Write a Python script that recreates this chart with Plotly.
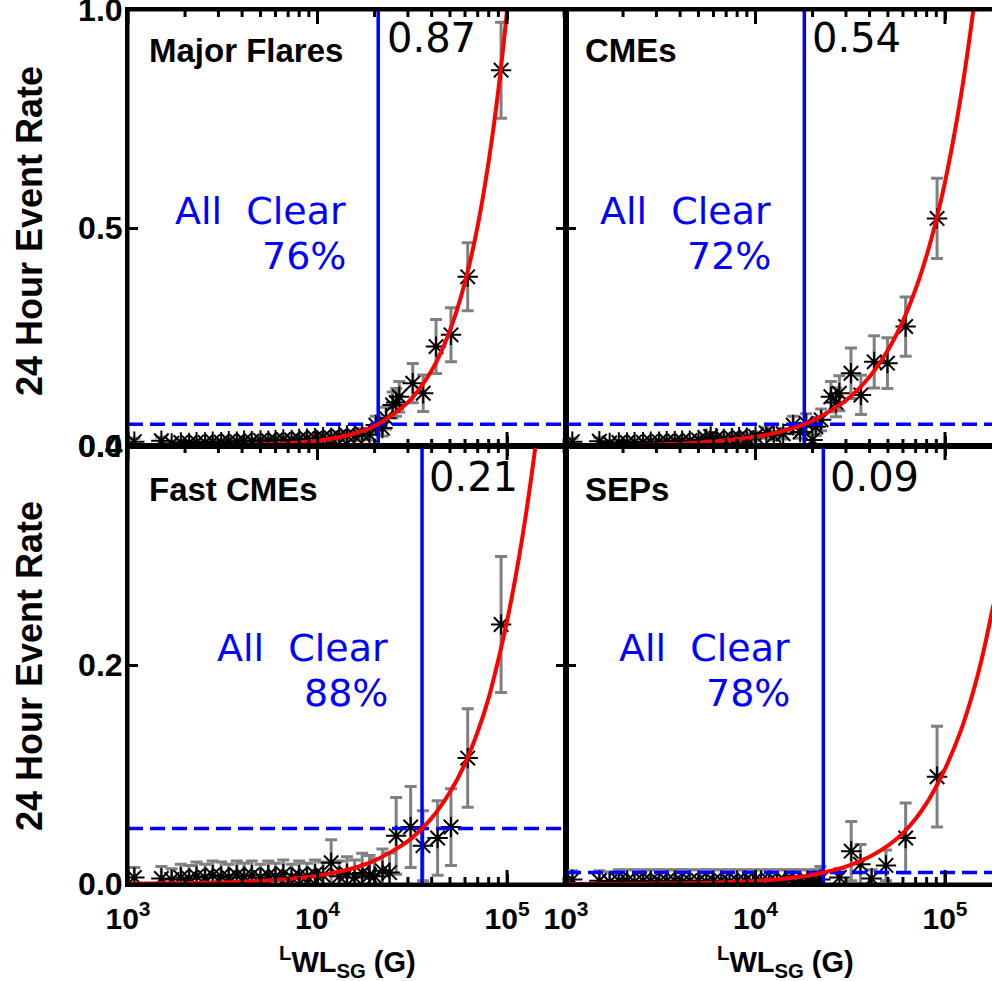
import plotly.graph_objects as go

W, H = 992, 981

# ---------------- data ----------------
PANEL_NAMES = ["Major Flares", "CMEs", "Fast CMEs", "SEPs"]
PROB_LABELS = ["0.87", "0.54", "0.21", "0.09"]
ALL_CLEAR_PCT = ["76%", "72%", "88%", "78%"]
THRESHOLDS = [2.09e4, 1.81e4, 3.56e4, 2.28e4]      # vertical blue lines (G)
THRESH_RATES = [0.050, 0.050, 0.0506, 0.0104]      # dashed blue lines

X_TICKS = [1e3, 1e4, 1e5]
X_TICK_TEXT = ["10<sup>3</sup>", "10<sup>4</sup>", "10<sup>5</sup>"]
X_MINOR = [2e3, 3e3, 4e3, 5e3, 6e3, 7e3, 8e3, 9e3,
           2e4, 3e4, 4e4, 5e4, 6e4, 7e4, 8e4, 9e4, 2e5]
Y_TICKS_TOP = [0.0, 0.5, 1.0]
Y_TICKS_BOT = [0.0, 0.2, 0.4]
Y_TICK_TEXT_TOP = ["0.0", "0.5", "1.0"]
Y_TICK_TEXT_BOT = ["0.0", "0.2", "0.4"]
Y_RANGE_TOP = [0.0, 1.0]
Y_RANGE_BOT = [0.0, 0.4]
X_RANGE_LEFT = [3.0, 5.311]    # log10
X_RANGE_RIGHT = [3.0, 5.248]   # log10 (panel cut at the image edge)

# Major flares
FL_X = [1.08e3, 1.5e3, 1.7e3, 1.9e3, 2.1e3, 2.3e3, 2.55e3, 2.8e3, 3.1e3, 3.4e3,
        3.75e3, 4.1e3, 4.5e3, 5.0e3, 5.5e3, 6.0e3, 6.6e3, 7.3e3, 8.0e3, 8.8e3,
        9.7e3, 1.07e4, 1.18e4, 1.3e4, 1.43e4, 1.57e4, 1.72e4, 1.88e4, 2.03e4, 2.2e4,
        2.3e4, 2.49e4, 2.6e4, 2.7e4, 3.18e4, 3.61e4, 4.22e4, 5.06e4, 6.2e4, 9.3e4]
FL_Y = [0.010, 0.012, 0.006, 0.008, 0.007, 0.009, 0.008, 0.010, 0.009, 0.011,
        0.010, 0.012, 0.011, 0.013, 0.012, 0.014, 0.015, 0.014, 0.016, 0.017,
        0.018, 0.020, 0.019, 0.022, 0.024, 0.023, 0.028, 0.026, 0.048, 0.041,
        0.064, 0.094, 0.100, 0.113, 0.144, 0.121, 0.228, 0.255, 0.388, 0.862]
FL_E = [0.008, 0.008, 0.005, 0.005, 0.005, 0.005, 0.005, 0.006, 0.006, 0.006,
        0.006, 0.006, 0.006, 0.007, 0.007, 0.007, 0.007, 0.007, 0.008, 0.008,
        0.008, 0.009, 0.009, 0.010, 0.010, 0.010, 0.012, 0.012, 0.020, 0.018,
        0.025, 0.030, 0.032, 0.035, 0.045, 0.042, 0.062, 0.062, 0.078, 0.110]

# CMEs
CM_X = [1.08e3, 1.5e3, 1.7e3, 1.9e3, 2.1e3, 2.3e3, 2.55e3, 2.8e3, 3.1e3, 3.4e3,
        3.75e3, 4.1e3, 4.5e3, 5.0e3, 5.5e3, 5.8e3, 6.2e3, 6.8e3, 7.5e3, 8.2e3,
        9.0e3, 1.0e4, 1.14e4, 1.25e4, 1.4e4, 1.58e4, 1.72e4, 1.85e4, 2.0e4, 2.08e4,
        2.22e4, 2.5e4, 2.66e4, 2.77e4, 3.19e4, 3.6e4, 4.23e4, 4.97e4, 6.2e4, 9.08e4]
CM_Y = [0.010, 0.011, 0.007, 0.008, 0.008, 0.009, 0.009, 0.010, 0.010, 0.011,
        0.011, 0.012, 0.012, 0.014, 0.016, 0.022, 0.018, 0.016, 0.018, 0.020,
        0.019, 0.022, 0.030, 0.024, 0.028, 0.048, 0.032, 0.052, 0.014, 0.044,
        0.060, 0.113, 0.100, 0.121, 0.167, 0.117, 0.193, 0.190, 0.274, 0.522]
CM_E = [0.008, 0.008, 0.005, 0.005, 0.005, 0.005, 0.005, 0.006, 0.006, 0.006,
        0.006, 0.006, 0.006, 0.007, 0.007, 0.009, 0.008, 0.008, 0.008, 0.009,
        0.009, 0.010, 0.012, 0.010, 0.012, 0.020, 0.014, 0.022, 0.010, 0.020,
        0.025, 0.035, 0.033, 0.040, 0.058, 0.045, 0.060, 0.058, 0.068, 0.092]

# Fast CMEs
FC_X = [1.08e3, 1.5e3, 1.7e3, 1.9e3, 2.1e3, 2.3e3, 2.55e3, 2.8e3, 3.1e3, 3.4e3,
        3.75e3, 4.1e3, 4.5e3, 5.0e3, 5.5e3, 6.0e3, 6.6e3, 7.3e3, 8.0e3, 8.8e3,
        9.7e3, 1.07e4, 1.18e4, 1.3e4, 1.43e4, 1.57e4, 1.72e4, 1.88e4, 2.0e4, 2.2e4,
        2.4e4, 2.6e4, 3.1e4, 3.6e4, 4.3e4, 5.06e4, 6.2e4, 9.3e4]
FC_Y = [0.006, 0.005, 0.004, 0.006, 0.005, 0.007, 0.006, 0.008, 0.007, 0.006,
        0.008, 0.007, 0.008, 0.006, 0.008, 0.007, 0.009, 0.006, 0.008, 0.007,
        0.009, 0.008, 0.0195, 0.007, 0.009, 0.006, 0.010, 0.008, 0.007, 0.012,
        0.0104, 0.044, 0.052, 0.035, 0.042, 0.052, 0.115, 0.237]
FC_E = [0.009, 0.011, 0.010, 0.012, 0.012, 0.013, 0.012, 0.013, 0.013, 0.012,
        0.013, 0.012, 0.013, 0.012, 0.013, 0.012, 0.013, 0.012, 0.013, 0.012,
        0.013, 0.012, 0.021, 0.014, 0.016, 0.016, 0.018, 0.018, 0.016, 0.020,
        0.018, 0.035, 0.037, 0.032, 0.034, 0.035, 0.045, 0.062]

# SEPs
SP_X = [1.08e3, 1.5e3, 1.7e3, 1.9e3, 2.1e3, 2.3e3, 2.55e3, 2.8e3, 3.1e3, 3.4e3,
        3.75e3, 4.1e3, 4.5e3, 5.0e3, 5.5e3, 6.0e3, 6.6e3, 7.3e3, 8.0e3, 8.8e3,
        9.7e3, 1.07e4, 1.18e4, 1.3e4, 1.43e4, 1.57e4, 1.72e4, 1.88e4, 2.05e4, 2.2e4,
        2.77e4, 3.2e4, 3.58e4, 4.1e4, 4.88e4, 6.2e4, 9.08e4]
SP_Y = [0.004, 0.003, 0.002, 0.003, 0.003, 0.002, 0.003, 0.003, 0.002, 0.003,
        0.003, 0.002, 0.003, 0.003, 0.002, 0.003, 0.003, 0.002, 0.003, 0.003,
        0.002, 0.003, 0.003, 0.002, 0.003, 0.003, 0.002, 0.003, 0.003, 0.004,
        0.006, 0.030, 0.018, 0.005, 0.017, 0.042, 0.098]
SP_E = [0.008, 0.009, 0.009, 0.010, 0.010, 0.011, 0.010, 0.010, 0.011, 0.010,
        0.010, 0.011, 0.010, 0.010, 0.011, 0.010, 0.010, 0.011, 0.010, 0.010,
        0.011, 0.010, 0.010, 0.011, 0.010, 0.010, 0.011, 0.010, 0.010, 0.012,
        0.008, 0.027, 0.018, 0.008, 0.014, 0.032, 0.046]

# fitted curves, read at these field strengths
FIT_X = [1e3, 3e3, 5e3, 1e4, 1.5e4, 2e4, 3e4, 4e4, 5e4, 6e4, 7e4, 8e4, 9e4,
         1e5, 1.2e5, 1.4e5, 1.6e5, 1.8e5]
FIT_FL = [0.00015, 0.0012, 0.0032, 0.0122, 0.0265, 0.046, 0.100, 0.173, 0.265,
          0.376, 0.505, 0.653, 0.817, 1.000, 1.42, 1.90, 2.45, 3.05]
FIT_CM = [0.00073, 0.0036, 0.0077, 0.021, 0.038, 0.058, 0.1045, 0.159, 0.220,
          0.287, 0.360, 0.437, 0.519, 0.605, 0.790, 0.989, 1.20, 1.42]
FIT_FC = [0.00024, 0.0013, 0.0027, 0.0076, 0.0139, 0.0214, 0.0392, 0.0602, 0.084,
          0.110, 0.139, 0.170, 0.205, 0.240, 0.315, 0.395, 0.480, 0.570]
FIT_SP = [0.00007, 0.0004, 0.0009, 0.0028, 0.0053, 0.0084, 0.0158, 0.0248, 0.0350,
          0.0465, 0.0595, 0.0738, 0.0893, 0.105, 0.138, 0.174, 0.213, 0.255]

DATA_X = [FL_X, CM_X, FC_X, SP_X]
DATA_Y = [FL_Y, CM_Y, FC_Y, SP_Y]
DATA_E = [FL_E, CM_E, FC_E, SP_E]
FITS = [FIT_FL, FIT_CM, FIT_FC, FIT_SP]

# ---------------- layout geometry (pixels) ----------------
PX_LEFT, PX_MID, PX_RIGHT = 128, 566, 992
PY_TOP, PY_MID, PY_BOT = 10, 446, 884


def fx(px):
    return px / W


def fy(py):
    return 1 - py / H


BLUE = "#0000ff"
RED = "#ff0000"
GREY = "#808080"
BOLD = "Liberation Sans"
THIN = "DejaVu Sans"

fig = go.Figure()

axis_ids = ["", "2", "3", "4"]
x_ranges = [X_RANGE_LEFT, X_RANGE_RIGHT, X_RANGE_LEFT, X_RANGE_RIGHT]
y_ranges = [Y_RANGE_TOP, Y_RANGE_TOP, Y_RANGE_BOT, Y_RANGE_BOT]
right_panel = [False, True, False, True]

for i in range(4):
    xa = "x" + axis_ids[i]
    ya = "y" + axis_ids[i]
    yr = y_ranges[i]
    # data with error bars
    fig.add_trace(go.Scatter(
        x=DATA_X[i], y=DATA_Y[i], mode="markers", xaxis=xa, yaxis=ya,
        marker=dict(symbol="asterisk-open", size=17, color="black",
                    line=dict(color="black", width=2)),
        error_y=dict(type="data", array=DATA_E[i], color=GREY,
                     thickness=3, width=6),
        showlegend=False, cliponaxis=True, hoverinfo="skip"))
    # vertical threshold line
    fig.add_trace(go.Scatter(
        x=[THRESHOLDS[i], THRESHOLDS[i]], y=yr, mode="lines",
        xaxis=xa, yaxis=ya, line=dict(color=BLUE, width=3.5),
        showlegend=False, hoverinfo="skip"))
    # horizontal dashed line
    xr = x_ranges[i]
    fig.add_trace(go.Scatter(
        x=[10 ** xr[0], 10 ** xr[1]], y=[THRESH_RATES[i], THRESH_RATES[i]],
        mode="lines", xaxis=xa, yaxis=ya,
        line=dict(color=BLUE, width=3.5, dash="15px,7px"),
        showlegend=False, hoverinfo="skip"))
    # fitted curve
    fig.add_trace(go.Scatter(
        x=FIT_X, y=FITS[i], mode="lines", xaxis=xa, yaxis=ya,
        line=dict(color=RED, width=4, shape="spline", smoothing=0.8),
        showlegend=False, hoverinfo="skip"))
    # x tick marks on bottom and top edges (clipped to the panel -> inside ticks)
    fig.add_trace(go.Scatter(
        x=X_TICKS + X_TICKS, y=[yr[0]] * len(X_TICKS) + [yr[1]] * len(X_TICKS),
        mode="markers", xaxis=xa, yaxis=ya, cliponaxis=True,
        marker=dict(symbol="line-ns-open", size=20, color="black",
                    line=dict(color="black", width=3)),
        showlegend=False, hoverinfo="skip"))
    fig.add_trace(go.Scatter(
        x=X_MINOR + X_MINOR, y=[yr[0]] * len(X_MINOR) + [yr[1]] * len(X_MINOR),
        mode="markers", xaxis=xa, yaxis=ya, cliponaxis=True,
        marker=dict(symbol="line-ns-open", size=10, color="black",
                    line=dict(color="black", width=3)),
        showlegend=False, hoverinfo="skip"))
    # panel frame (right panels are cut by the image edge)
    fig.add_shape(type="rect", xref=xa + " domain", yref=ya + " domain",
                  x0=0, y0=0, x1=1.03 if right_panel[i] else 1, y1=1,
                  line=dict(color="black", width=3), layer="above")

x_domains = [[fx(PX_LEFT), fx(PX_MID)], [fx(PX_MID), 1.0]] * 2
y_domains = [[fy(PY_MID), fy(PY_TOP)]] * 2 + [[fy(PY_BOT), fy(PY_MID)]] * 2

layout = dict(width=W, height=H, margin=dict(l=0, r=0, t=0, b=0, autoexpand=False),
              paper_bgcolor="white", plot_bgcolor="white", showlegend=False)

for i in range(4):
    left = i in (0, 2)
    bottom = i in (2, 3)
    layout["xaxis" + axis_ids[i]] = dict(
        type="log", range=x_ranges[i], domain=x_domains[i],
        anchor="y" + axis_ids[i], automargin=False,
        showline=True, linecolor="black", linewidth=3, mirror="ticks",
        ticks="inside", ticklen=10, tickwidth=3, tickcolor="black",
        tickmode="array", tickvals=X_TICKS, ticktext=X_TICK_TEXT,
        showticklabels=bottom, ticklabeloverflow="allow",
        tickfont=dict(family=BOLD, size=30, color="black", weight="bold"),
        ticklabelstandoff=6,
        showgrid=False, zeroline=False)
    layout["yaxis" + axis_ids[i]] = dict(
        range=y_ranges[i], domain=y_domains[i], anchor="x" + axis_ids[i],
        automargin=False,
        showline=True, linecolor="black", linewidth=3,
        mirror="ticks" if left else False,
        ticks="inside", ticklen=10, tickwidth=3, tickcolor="black",
        tickmode="array",
        tickvals=Y_TICKS_TOP if i < 2 else Y_TICKS_BOT,
        ticktext=Y_TICK_TEXT_TOP if i < 2 else Y_TICK_TEXT_BOT,
        showticklabels=left, ticklabelstandoff=-4, ticklabeloverflow="allow",
        tickfont=dict(family=BOLD, size=32, color="black", weight="bold"),
        showgrid=False, zeroline=False)

fig.update_layout(**layout)

# ---------------- text ----------------
name_pos = [(147, 51), (583, 51), (147, 489), (583, 489)]
prob_pos = [(385, 38), (810, 38), (427, 477), (828, 477)]
clear_pos = [(348, 211, 256), (773, 211, 256), (390, 648, 693), (792, 648, 693)]

for i in range(4):
    fig.add_annotation(text=PANEL_NAMES[i], xref="paper", yref="paper",
                       x=fx(name_pos[i][0]), y=fy(name_pos[i][1]),
                       xanchor="left", yanchor="middle", showarrow=False,
                       font=dict(family=BOLD, size=33, color="black", weight="bold"))
    fig.add_annotation(text=PROB_LABELS[i], xref="paper", yref="paper",
                       x=fx(prob_pos[i][0]), y=fy(prob_pos[i][1]),
                       xanchor="left", yanchor="middle", showarrow=False,
                       font=dict(family=THIN, size=40, color="black"))
    fig.add_annotation(text="All  Clear", xref="paper", yref="paper",
                       x=fx(clear_pos[i][0]), y=fy(clear_pos[i][1]),
                       xanchor="right", yanchor="middle", showarrow=False,
                       font=dict(family=THIN, size=38, color=BLUE))
    fig.add_annotation(text=ALL_CLEAR_PCT[i], xref="paper", yref="paper",
                       x=fx(clear_pos[i][0]), y=fy(clear_pos[i][2]),
                       xanchor="right", yanchor="middle", showarrow=False,
                       font=dict(family=THIN, size=38, color=BLUE))

# axis titles
for cy in (231, 666):
    fig.add_annotation(text="24 Hour Event Rate", xref="paper", yref="paper",
                       x=fx(29), y=fy(cy), textangle=-90,
                       xanchor="center", yanchor="middle", showarrow=False,
                       font=dict(family=BOLD, size=36, color="black", weight="bold"))
for cx in (347, 785):
    fig.add_annotation(text="<sup>L</sup>WL<sub>SG</sub> (G)", xref="paper", yref="paper",
                       x=fx(cx), y=fy(962), xanchor="center", yanchor="middle",
                       showarrow=False,
                       font=dict(family=BOLD, size=29, color="black", weight="bold"))

# the page's default body margin would shift the figure; remove it
fig.write_html("out.html", config={"displayModeBar": False},
               post_script="document.body.style.margin='0';")
